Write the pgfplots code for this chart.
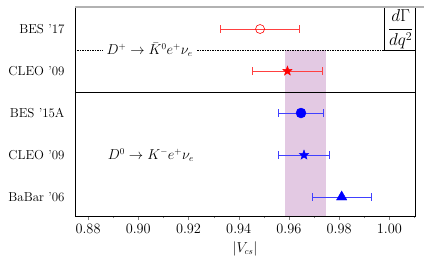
\documentclass[border=0pt]{standalone}
\usepackage{pgfplots}
\pgfplotsset{compat=1.18}
\definecolor{band}{HTML}{E3C9E3}
\definecolor{ebred}{HTML}{FF4040}
\definecolor{ebblue}{HTML}{4040FF}
\pgfdeclareplotmark{fstar}{%
  \pgfpathmoveto{\pgfpointpolar{90}{\pgfplotmarksize}}%
  \pgfpathlineto{\pgfpointpolar{126}{0.42\pgfplotmarksize}}%
  \pgfpathlineto{\pgfpointpolar{162}{\pgfplotmarksize}}%
  \pgfpathlineto{\pgfpointpolar{198}{0.42\pgfplotmarksize}}%
  \pgfpathlineto{\pgfpointpolar{234}{\pgfplotmarksize}}%
  \pgfpathlineto{\pgfpointpolar{270}{0.42\pgfplotmarksize}}%
  \pgfpathlineto{\pgfpointpolar{306}{\pgfplotmarksize}}%
  \pgfpathlineto{\pgfpointpolar{342}{0.42\pgfplotmarksize}}%
  \pgfpathlineto{\pgfpointpolar{18}{\pgfplotmarksize}}%
  \pgfpathlineto{\pgfpointpolar{54}{0.42\pgfplotmarksize}}%
  \pgfpathclose\pgfusepathqfillstroke}
\pgfplotsset{
  ebr/.style={draw=ebred, line width=0.9pt, mark=|, mark size=4bp, mark options={draw=ebred, line width=0.9pt}},
  ebb/.style={draw=ebblue, line width=0.9pt, mark=|, mark size=4bp, mark options={draw=ebblue, line width=0.9pt}},
}
\begin{document}
\fontsize{13}{15.6}\selectfont
\begin{tikzpicture}[x=1bp,y=1bp]
\begin{axis}[name=ax,
  scale only axis, width=340bp, height=209bp,
  xmin=0.8748, xmax=1.0102, ymin=0.548, ymax=5.524,
  xtick={0.88,0.90,...,1.00},
  minor xtick={0.89,0.91,...,1.01},
  xticklabel style={font=\fontsize{13.5}{16}\selectfont,
    /pgf/number format/.cd,fixed,fixed zerofill,precision=2},
  tick align=outside, xtick pos=bottom,
  major tick length=4bp, minor tick length=2.5bp,
  ytick={1,2,3,4,5},
  yticklabels={BaBar '06, CLEO '09, BES '15A, CLEO '09, BES '17},
  ytick style={draw=none},
  yticklabel style={font=\fontsize{13}{15.6}\selectfont, xshift=-2bp},
  xlabel={$|V_{cs}|$},
  xlabel style={font=\fontsize{13.5}{16}\selectfont, yshift=1bp},
  axis line style={line width=0.6pt},
  clip mode=individual,
]
\addplot[draw=none, fill=band] coordinates {(0.9585,0.4)(0.9746,0.4)(0.9746,4.5)(0.9585,4.5)} -- cycle;
\draw[line width=0.5pt] (axis cs:0.8748,3.5) -- (axis cs:1.0102,3.5);
\draw[dash pattern=on 1.5bp off 1bp, line width=0.5pt] (axis cs:0.8748,4.5) -- (axis cs:0.998,4.5);
\draw[line width=0.5pt] (axis cs:1.0102,4.5) -- (axis cs:0.998,4.5) -- (axis cs:0.998,5.524);
\node[fill=white, inner xsep=4pt, inner ysep=1pt] at (axis cs:0.9045,4.5) {\fontsize{13.5}{16}\selectfont$D^+ \to \bar{K}^0 e^+ \nu_e$};
\node at (axis cs:0.9050,2) {\fontsize{13.5}{16}\selectfont$D^0 \to K^- e^+ \nu_e$};
\node[inner sep=0pt] at (axis cs:1.0045,5.0) {\fontsize{17}{20}\selectfont$\displaystyle\frac{d\Gamma}{dq^2}$};
% error bars (interval ends)
\addplot[ebr] coordinates {(0.9329,5)(0.9641,5)};
\addplot[ebr] coordinates {(0.9456,4)(0.9732,4)};
\addplot[ebb] coordinates {(0.9560,3)(0.9736,3)};
\addplot[ebb] coordinates {(0.9557,2)(0.9763,2)};
\addplot[ebb] coordinates {(0.9692,1)(0.9928,1)};
% central values
\addplot[only marks, red, mark=o, mark size=4.5bp, mark options={line width=0.6pt, fill=white}]
  coordinates {(0.9485,5)};
\addplot[only marks, red, mark=fstar, mark size=5bp] coordinates {(0.9594,4)};
\addplot[only marks, blue, mark=*, mark size=5bp] coordinates {(0.9648,3)};
\addplot[only marks, blue, mark=fstar, mark size=5bp] coordinates {(0.9660,2)};
\addplot[only marks, blue, mark=triangle*, mark size=6bp] coordinates {(0.9810,1)};
\end{axis}
\draw[gray!60, line width=1.2pt] (ax.north west) -- ([xshift=9bp]ax.north east);
\pgfresetboundingbox
\useasboundingbox ([xshift=-75bp,yshift=-46bp]ax.south west) rectangle ([xshift=9bp,yshift=7bp]ax.north east);
\end{tikzpicture}
\end{document}
